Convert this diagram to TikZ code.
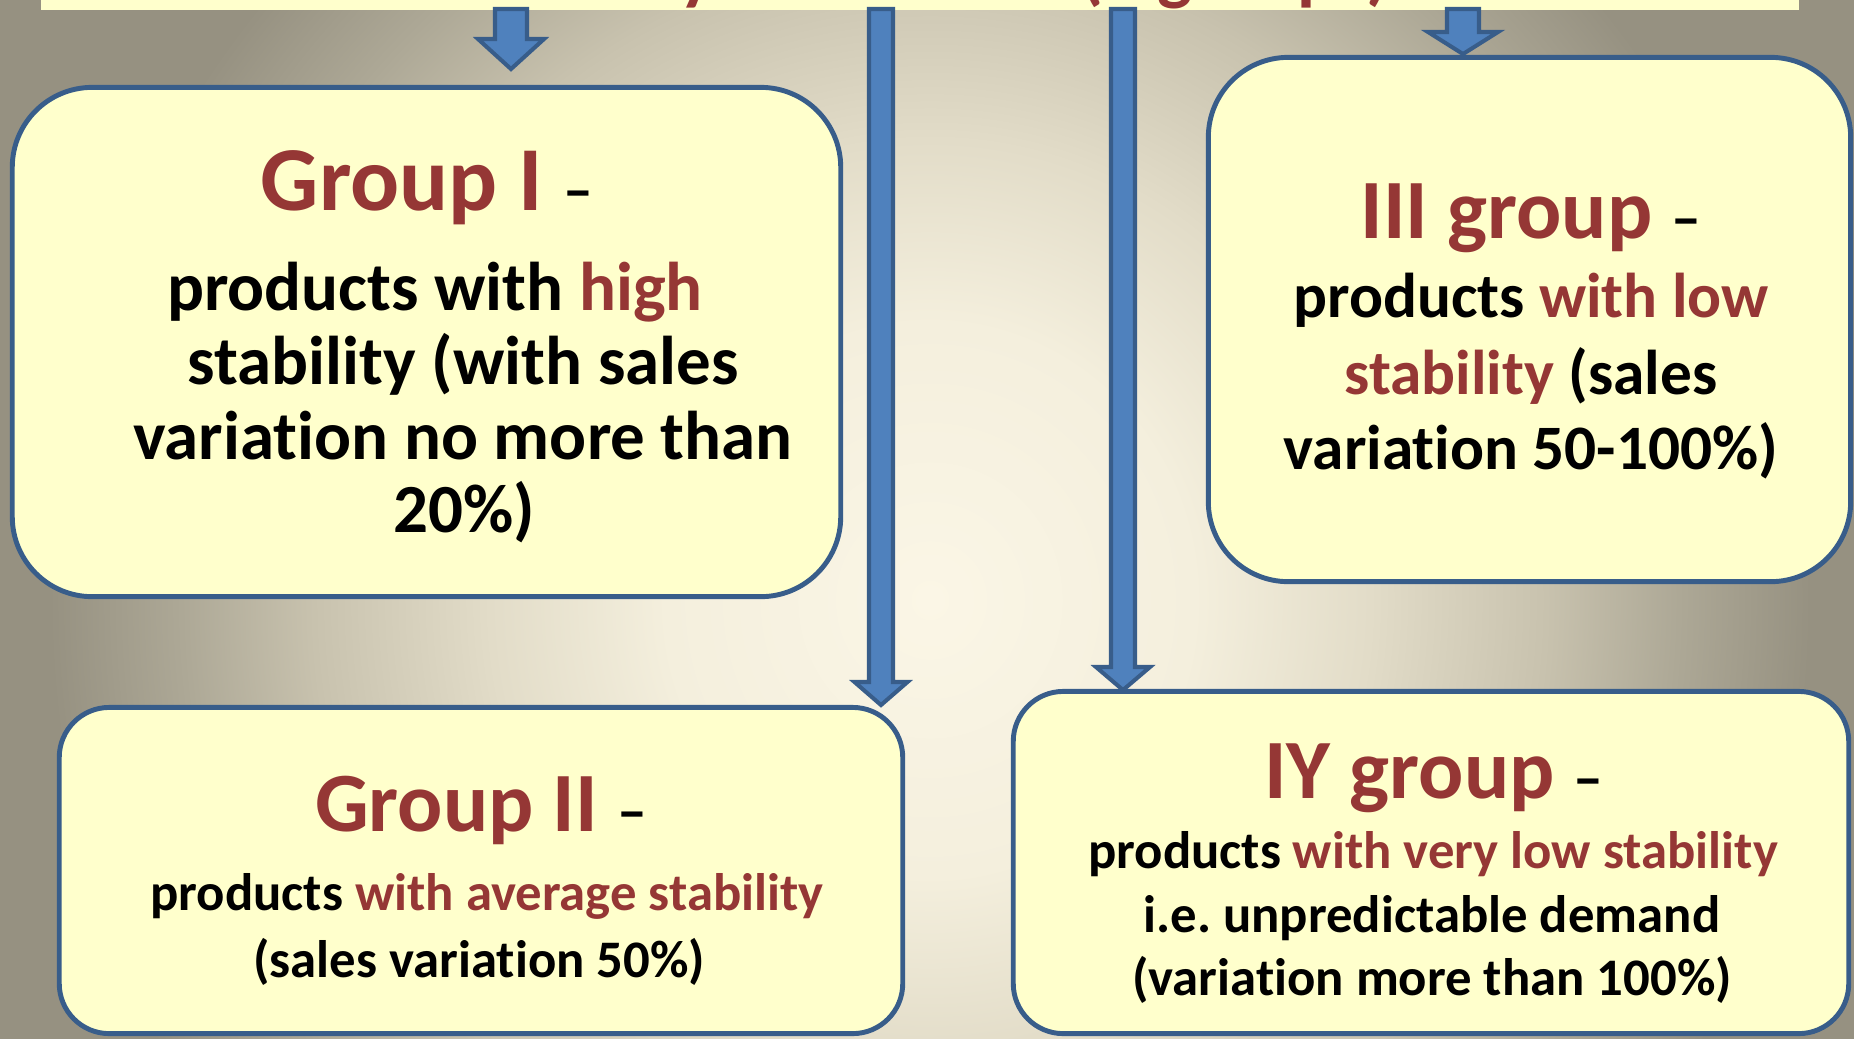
\documentclass[tikz,border=0pt]{standalone}
\usepackage{fontspec}
\setmainfont{Carlito}[RawFeature={-liga}]

% palette
\definecolor{boxfill}{HTML}{FFFFCC}
\definecolor{boxline}{HTML}{385D8A}
\definecolor{arrowfill}{HTML}{4F81BD}
\definecolor{titlered}{HTML}{953735}
\definecolor{bgA}{HTML}{FBF6E6}
\definecolor{bgB}{HTML}{F4EFDD}
\definecolor{bgC}{HTML}{E2DCC8}
\definecolor{bgD}{HTML}{C8C2AE}
\definecolor{bgE}{HTML}{ADA896}
\definecolor{bgF}{HTML}{969181}

% soft glow behind the panels (natural size 100bp, outer colour from 25bp)
\pgfdeclareradialshading{backglow}{\pgfpoint{0bp}{0bp}}{%
  color(0bp)=(bgA); color(7.5bp)=(bgB); color(12.5bp)=(bgC);
  color(17.5bp)=(bgD); color(21.25bp)=(bgE); color(25bp)=(bgF);
  color(50bp)=(bgF)}

% font sizes
\newcommand\hdA{\fontsize{26}{30}\selectfont\color{titlered}}
\newcommand\hdB{\fontsize{24}{28}\selectfont\color{titlered}}
\newcommand\dashf{\fontsize{17}{20}\selectfont}
\newcommand\bdA{\fontsize{19.6}{23}\selectfont}
\newcommand\bdB{\fontsize{18}{22}\selectfont}
\newcommand\bdC{\fontsize{15}{18}\selectfont}
\newcommand\hl[1]{\textcolor{titlered}{#1}}

% downward block arrow: centre x, top y, shaft half width, head half width, head base y, tip y
\newcommand\dropshape[6]{%
  \draw[blockarrow] ({#1-#3},#2) -- ({#1-#3},#5) -- ({#1-#4},#5) -- (#1,#6)
    -- ({#1+#4},#5) -- ({#1+#3},#5) -- ({#1+#3},#2) -- cycle;}

\tikzset{
  panel/.style={draw=boxline, line width=1.4pt, fill=boxfill,
    inner sep=0pt, outer sep=0pt},
  blockarrow/.style={draw=boxline, fill=arrowfill, line width=1.15pt},
  txtline/.style={inner sep=0pt, outer sep=0pt, anchor=base, font=\bfseries},
}

\begin{document}
\frenchspacing
\begin{tikzpicture}[x=0.01cm, y=-0.01cm]
  \useasboundingbox (0,0) rectangle (1854,1038);
  \clip (0,0) rectangle (1854,1038);

  % background
  \fill[bgF] (0,0) rectangle (1854,1038);
  \begin{scope}[shift={(930,600)}]
    \node[inner sep=0pt, outer sep=0pt, xscale=9.98, yscale=10.43, transform shape]
      (glow) at (0,0) {\pgfuseshading{backglow}};
  \end{scope}

  % heading strip
  \node[fill=boxfill, inner sep=0pt, outer sep=0pt,
        minimum width=17.56cm, minimum height=0.7cm] (banner) at (920,-25) {};
  \node[txtline, text=titlered, font=\bfseries\fontsize{21}{25}\selectfont]
        (title) at (926,-4) {Stability of demand (4 groups)};

  % panels
  \node[panel, rounded corners=0.8cm, minimum width=8.28cm, minimum height=5.09cm]
        (g1) at (426.5,342) {};
  \node[panel, rounded corners=0.8cm, minimum width=6.42cm, minimum height=5.24cm]
        (g3) at (1529.5,319.5) {};
  \node[panel, rounded corners=0.5cm, minimum width=8.43cm, minimum height=3.26cm]
        (g2) at (481,870.5) {};
  \node[panel, rounded corners=0.5cm, minimum width=8.35cm, minimum height=3.42cm]
        (g4) at (1431,862.5) {};

  % Group I
  \node[txtline] (g1t) at (427,210) {{\hdA Group I }{\dashf –}};
  \node[txtline, font=\bfseries\bdA] (g1a) at (435,310) {products with \hl{high}};
  \node[txtline, font=\bfseries\bdA] (g1b) at (463,384) {stability (with sales};
  \node[txtline, font=\bfseries\bdA] (g1c) at (463,459) {variation no more than};
  \node[txtline, font=\bfseries\bdA] (g1d) at (464,532) {20\%)};

  % III group
  \node[txtline] (g3t) at (1531,238) {{\hdB III group }{\dashf –}};
  \node[txtline, font=\bfseries\bdB] (g3a) at (1531,317) {products \hl{with low}};
  \node[txtline, font=\bfseries\bdB] (g3b) at (1531,394) {\hl{stability} (sales};
  \node[txtline, font=\bfseries\bdB] (g3c) at (1531,469) {variation 50-100\%)};

  % Group II
  \node[txtline] (g2t) at (481,831) {{\hdB Group II }{\dashf –}};
  \node[txtline, font=\bfseries\bdC] (g2a) at (487,910) {products \hl{with average stability}};
  \node[txtline, font=\bfseries\bdC] (g2b) at (479,977) {(sales variation 50\%)};

  % IY group
  \node[txtline] (g4t) at (1434,798) {{\hdB IY group }{\dashf –}};
  \node[txtline, font=\bfseries\bdC] (g4a) at (1433,868) {products \hl{with very low stability}};
  \node[txtline, font=\bfseries\bdC] (g4b) at (1432,932) {i.e. unpredictable demand};
  \node[txtline, font=\bfseries\bdC] (g4c) at (1432,995) {(variation more than 100\%)};

  % arrows from the heading strip down to the panels
  \dropshape{511}{9}{16}{33}{39}{69}
  \dropshape{881}{9}{12}{26.5}{682}{705}
  \dropshape{1123}{9}{12}{27}{667}{690}
  \dropshape{1463}{9}{16}{35}{32}{54}
\end{tikzpicture}
\end{document}
